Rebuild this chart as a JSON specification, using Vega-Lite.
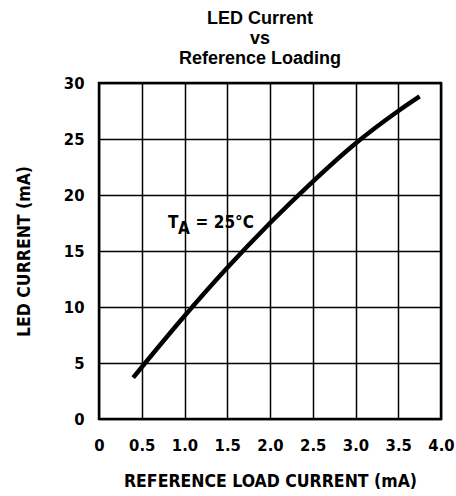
{
  "$schema": "https://vega.github.io/schema/vega-lite/v6.json",
  "width": 342,
  "height": 336,
  "autosize": {"type": "none"},
  "padding": {"left": 99, "top": 83, "right": 15, "bottom": 77},
  "background": "white",
  "config": {
    "view": {"stroke": "black", "strokeWidth": 2.5},
    "font": "DejaVu Sans Condensed, DejaVu Sans"
  },
  "title": {
    "text": ["LED Current", "vs", "Reference Loading"],
    "font": "Liberation Sans",
    "fontSize": 18,
    "fontWeight": "bold",
    "lineHeight": 20,
    "offset": 7,
    "dx": -10,
    "anchor": "middle",
    "color": "black"
  },
  "layer": [
    {
      "data": {"values": [
        {"ref": 0.4, "led": 3.7},
        {"ref": 1.0, "led": 9.2},
        {"ref": 1.5, "led": 13.5},
        {"ref": 2.0, "led": 17.5},
        {"ref": 2.5, "led": 21.2},
        {"ref": 3.0, "led": 24.6},
        {"ref": 3.5, "led": 27.5},
        {"ref": 3.75, "led": 28.8}
      ]},
      "mark": {"type": "line", "color": "black", "strokeWidth": 4.5, "interpolate": "monotone", "strokeCap": "butt"},
      "encoding": {
        "x": {
          "field": "ref", "type": "quantitative",
          "scale": {"domain": [0, 4], "nice": false, "zero": false},
          "axis": {
            "values": [0, 0.5, 1, 1.5, 2, 2.5, 3, 3.5, 4],
            "labelExpr": "datum.value == 0 ? '0' : format(datum.value, '.1f')",
            "labelFlush": false, "labelOverlap": false,
            "title": "REFERENCE LOAD CURRENT (mA)",
            "grid": true, "gridColor": "black", "gridWidth": 1.5, "gridOpacity": 1,
            "domain": false, "ticks": false,
            "labelPadding": 18, "labelFontSize": 16.5, "labelFontWeight": "bold", "labelColor": "black",
            "titleFontSize": 17.5, "titleFontWeight": "bold", "titleColor": "black", "titlePadding": 19
          }
        },
        "y": {
          "field": "led", "type": "quantitative",
          "scale": {"domain": [0, 30], "nice": false},
          "axis": {
            "values": [0, 5, 10, 15, 20, 25, 30],
            "labelFlush": false, "labelOverlap": false,
            "title": "LED CURRENT (mA)",
            "grid": true, "gridColor": "black", "gridWidth": 1.5, "gridOpacity": 1,
            "domain": false, "ticks": false,
            "labelPadding": 15, "labelFontSize": 16.5, "labelFontWeight": "bold", "labelColor": "black",
            "titleFontSize": 17.5, "titleFontWeight": "bold", "titleColor": "black", "titlePadding": 30
          }
        }
      }
    },
    {
      "data": {"values": [
        {"ref": 0.807, "led": 17.08, "t": "T"},
        {"ref": 0.925, "led": 16.5, "t": "A"},
        {"ref": 1.13, "led": 17.08, "t": "= 25°C"}
      ]},
      "mark": {"type": "text", "align": "left", "baseline": "alphabetic", "fontWeight": "bold", "fontSize": 17, "color": "black"},
      "encoding": {
        "x": {"field": "ref", "type": "quantitative"},
        "y": {"field": "led", "type": "quantitative"},
        "text": {"field": "t"}
      }
    }
  ]
}
